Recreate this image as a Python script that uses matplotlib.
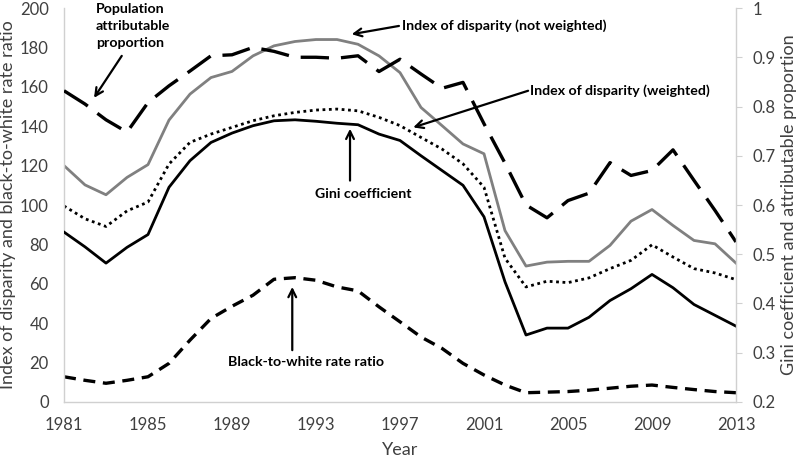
#!/usr/bin/env python3
"""Disparity measures over time, two y axes"""

import matplotlib

matplotlib.use("Agg")
import matplotlib.pyplot as plt

years = list(range(1981, 2014))

# left axis series
idxNotWeighted = [120, 110.2, 105.2, 114, 120.5, 143.1, 156.3, 164.7, 167.8, 175.7,
                  180.8, 183, 184, 184, 181.6, 175.7, 167.2, 149.5, 140.3, 131,
                  126, 87, 69, 71, 71.4, 71.4, 79.5, 91.8, 97.7, 89.6,
                  82, 80.3, 70.5]
idxWeighted = [99.5, 93, 89.1, 97, 101.5, 120.8, 131.8, 136, 139.4, 142.8,
               145.3, 147, 148.2, 148.7, 147.8, 144.5, 140.3, 134.3, 128.4, 120.9,
               109, 73, 58.4, 61.3, 60.6, 63, 67.7, 71.9, 79.8, 73.6,
               67.7, 65.5, 62.1]
rateRatio = [12.8, 11, 9.5, 11, 12.8, 19.6, 31.4, 42.4, 48.6, 54.2,
             62.3, 63.1, 61.8, 58.4, 56.4, 48.3, 40.7, 33, 27.2, 19.6,
             13.7, 8.6, 4.7, 5, 5.3, 6, 7, 8, 8.6, 7.4,
             6.3, 5.3, 4.7]

# right axis series
gini = [0.545, 0.515, 0.482, 0.514, 0.54, 0.636, 0.69, 0.727, 0.746, 0.761,
        0.771, 0.773, 0.770, 0.766, 0.763, 0.744, 0.731, 0.70, 0.67, 0.64,
        0.576, 0.444, 0.336, 0.350, 0.350, 0.372, 0.406, 0.430, 0.459, 0.432,
        0.398, 0.376, 0.354]
attribProp = [0.832, 0.805, 0.773, 0.748, 0.808, 0.842, 0.872, 0.903, 0.905, 0.92,
              0.912, 0.90, 0.90, 0.898, 0.903, 0.871, 0.896, 0.866, 0.837, 0.849,
              0.765, 0.685, 0.60, 0.574, 0.609, 0.624, 0.686, 0.66, 0.67, 0.712,
              0.65, 0.589, 0.525]

xticks = list(range(1981, 2014, 4))
leftTicks = list(range(0, 201, 20))
rightTicks = [0.2, 0.3, 0.4, 0.5, 0.6, 0.7, 0.8, 0.9, 1.0]
rightTickLabels = ["0.2", "0.3", "0.4", "0.5", "0.6", "0.7", "0.8", "0.9", "1"]


def arrow(ax, tail, head):
    """Plain black arrow in left-axis data coordinates"""
    ax.annotate(
        "",
        xy=head,
        xytext=tail,
        arrowprops={"arrowstyle": "->", "color": "k", "lw": 1.6,
                    "shrinkA": 0, "shrinkB": 0, "mutation_scale": 14},
        annotation_clip=False,
    )


def main():
    plt.rcParams.update({"font.family": ["Lato", "DejaVu Sans"]})
    tickColor = "#404040"
    spineColor = "#d0d0d0"

    fig = plt.figure(figsize=(8.0, 4.58), dpi=100)
    ax = fig.add_axes([0.08, 0.1223, 0.84, 0.8602])
    ax2 = ax.twinx()

    ax.plot(years, idxNotWeighted, color="#808080", lw=2.0)
    ax.plot(years, idxWeighted, color="k", lw=2.0, linestyle=(0, (1, 1.3)))
    ax.plot(years, rateRatio, color="k", lw=2.4, linestyle=(0, (3.6, 2.3)))
    ax2.plot(years, gini, color="k", lw=2.0)
    ax2.plot(years, attribProp, color="k", lw=2.4, linestyle=(0, (8.5, 3.6)))

    ax.set_xlim(1981, 2013)
    ax.set_ylim(0, 200)
    ax2.set_ylim(0.2, 1.0)
    ax.set_xticks(xticks)
    ax.set_yticks(leftTicks)
    ax2.set_yticks(rightTicks)
    ax2.set_yticklabels(rightTickLabels)

    for a in (ax, ax2):
        for s in a.spines.values():
            s.set_visible(False)
    ax.spines["left"].set_visible(True)
    ax.spines["bottom"].set_visible(True)
    ax2.spines["right"].set_visible(True)
    for s in (ax.spines["left"], ax.spines["bottom"], ax2.spines["right"]):
        s.set_color(spineColor)
        s.set_linewidth(1.0)

    ax.tick_params(axis="y", length=0, labelsize=12, labelcolor=tickColor, pad=11)
    ax.tick_params(axis="x", length=0, labelsize=12, labelcolor=tickColor, pad=11)
    ax2.tick_params(axis="y", length=4, color=spineColor, labelsize=12,
                    labelcolor=tickColor, pad=8)

    ax.set_xlabel("Year", fontsize=13, color=tickColor, labelpad=6)
    ax.set_ylabel("Index of disparity and black-to-white rate ratio",
                  fontsize=13, color=tickColor, labelpad=3)
    ax2.set_ylabel("Gini coefficient and attributable proportion",
                   fontsize=13, color=tickColor, labelpad=4)

    # annotations, positions in left-axis units
    bold = {"fontsize": 10.2, "fontweight": "bold", "color": "k"}
    ax.text(1982.52, 191.0, "Population\nattributable\nproportion",
            ha="left", va="center", linespacing=1.5, **bold)
    arrow(ax, (1983.75, 175.7), (1982.43, 154.4))

    ax.text(1997.1, 190.9, "Index of disparity (not weighted)",
            ha="left", va="center", **bold)
    arrow(ax, (1996.95, 190.9), (1994.7, 186.7))

    ax.text(2003.19, 158, "Index of disparity (weighted)",
            ha="left", va="center", **bold)
    arrow(ax, (2003.1, 158), (1997.63, 139.4))

    ax.text(1995.24, 105.8, "Gini coefficient", ha="center", va="center", **bold)
    arrow(ax, (1994.62, 112.4), (1994.62, 138.7))

    ax.text(1992.52, 20.4, "Black-to-white rate ratio",
            ha="center", va="center", **bold)
    arrow(ax, (1991.87, 26.3), (1991.87, 58.4))

    fig.savefig("out.png", dpi=100)


if __name__ == "__main__":
    main()
